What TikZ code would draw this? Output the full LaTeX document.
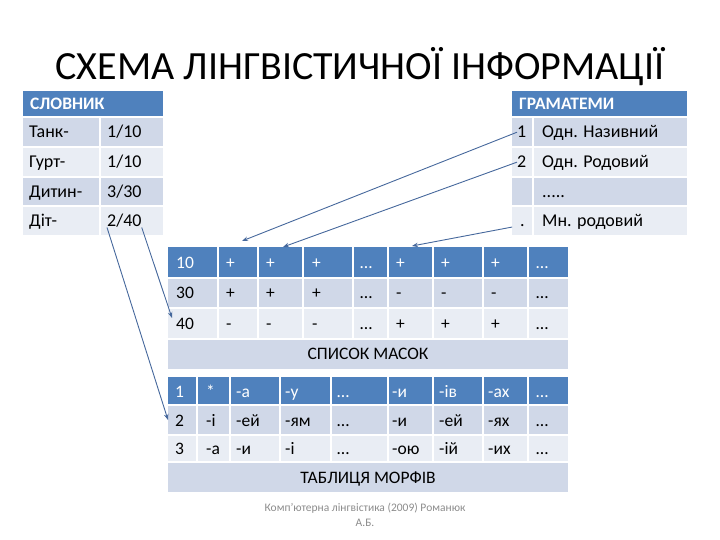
\documentclass[tikz,border=0pt]{standalone}
\usepackage{fontspec}
\setmainfont{Carlito}
\usetikzlibrary{arrows.meta}
\definecolor{hdr}{HTML}{4F81BD}
\definecolor{bandA}{HTML}{D0D8E8}
\definecolor{bandB}{HTML}{E9EDF4}
\definecolor{arr}{HTML}{46689C}
\definecolor{footc}{HTML}{8C8C8C}
\begin{document}
\begin{tikzpicture}[x=1pt,y=-1pt,
  big/.style={anchor=base west, inner sep=0pt, font=\fontsize{18}{20}\selectfont},
  hd/.style={anchor=base west, inner sep=0pt, text=white, font=\fontsize{17.5}{20}\selectfont\bfseries},
  mk/.style={anchor=base west, inner sep=0pt, font=\fontsize{17.5}{20}\selectfont},
  grid/.style={white, line width=1.2pt},
  con/.style={arr, line width=0.9pt, -{Stealth[length=6pt,width=4.5pt]}}]
\useasboundingbox (0,0) rectangle (720,540);

% title
\node[anchor=base, inner sep=0pt, font=\fontsize{40}{46}\selectfont] (title) at (360,80) {СХЕМА ЛІНГВІСТИЧНОЇ ІНФОРМАЦІЇ};

% ---------- СЛОВНИК ----------
\fill[hdr] (23,91) rectangle (163,117);
\fill[bandA] (23,117) rectangle (163,147);
\fill[bandB] (23,147) rectangle (163,177);
\fill[bandA] (23,177) rectangle (163,206);
\fill[bandB] (23,206) rectangle (163,235);
\foreach \y in {117,147,177,206} \draw[grid] (23,\y) -- (163,\y);
\draw[grid] (100,117) -- (100,235);
\node[hd] (sh) at (30,110) {СЛОВНИК};
\node[big] (s1) at (29,138) {Танк-};
\node[big] (s1v) at (107,138) {1/10};
\node[big] (s2) at (29,168) {Гурт-};
\node[big] (s2v) at (107,168) {1/10};
\node[big] (s3) at (29,197.5) {Дитин-};
\node[big] (s3v) at (107,197.5) {3/30};
\node[big] (s4) at (29,226.5) {Діт-};
\node[big] (s4v) at (107,226.5) {2/40};

% ---------- ГРАМАТЕМИ ----------
\fill[hdr] (512,91) rectangle (687,117);
\fill[bandA] (512,117) rectangle (687,147);
\fill[bandB] (512,147) rectangle (687,177);
\fill[bandA] (512,177) rectangle (687,206);
\fill[bandB] (512,206) rectangle (687,235);
\foreach \y in {117,147,177,206} \draw[grid] (512,\y) -- (687,\y);
\draw[grid] (533,117) -- (533,235);
\node[hd] (gh) at (519,110) {ГРАМАТЕМИ};
\node[big] (g1) at (517,138) {1};
\node[big] (g1t) at (542,138) {Одн. Називний};
\node[big] (g2) at (517,168) {2};
\node[big] (g2t) at (542,168) {Одн. Родовий};
\node[big] (g3t) at (542,197.5) {.....};
\node[big] (g4) at (520,226.5) {.};
\node[big] (g4t) at (542,226.5) {Мн. родовий};

% ---------- СПИСОК МАСОК ----------
\fill[hdr] (168,247) rectangle (568,278);
\fill[bandA] (168,278) rectangle (568,308);
\fill[bandB] (168,308) rectangle (568,339);
\fill[bandA] (168,339) rectangle (568,369);
\foreach \y in {278,308,339} \draw[grid] (168,\y) -- (568,\y);
\foreach \x in {218,258,303,353,388,433,483,528} \draw[grid] (\x,247) -- (\x,339);
\foreach \x/\s [count=\i] in {176/10,226/+,266/+,312/+,360/…,396/+,441/+,491/+,536/…}
  \node[mk, text=white] (ma\i) at (\x,268) {\s};
\foreach \x/\s [count=\i] in {176/30,226/+,266/+,312/+,360/…,396/-,441/-,491/-,536/…}
  \node[mk] (mb\i) at (\x,298.5) {\s};
\foreach \x/\s [count=\i] in {176/40,226/-,266/-,312/-,360/…,396/+,441/+,491/+,536/…}
  \node[mk] (mc\i) at (\x,329) {\s};
\node[anchor=base, inner sep=0pt, font=\fontsize{17.5}{20}\selectfont] (mtitle) at (368,359.5) {СПИСОК МАСОК};

% ---------- ТАБЛИЦЯ МОРФІВ ----------
\fill[hdr] (168,377) rectangle (568,405);
\fill[bandA] (168,405) rectangle (568,435);
\fill[bandB] (168,435) rectangle (568,462);
\fill[bandA] (168,462) rectangle (568,492);
\foreach \y in {405,435,462} \draw[grid] (168,\y) -- (568,\y);
\foreach \x in {197,230,280,331,388,433,483,528} \draw[grid] (\x,377) -- (\x,462);
\foreach \x/\s [count=\i] in {175/1,206/*,236/-а,285/-у,337/…,392/-и,439/-ів,488/-ах,536/…}
  \node[mk, text=white] (ra\i) at (\x,397) {\s};
\foreach \x/\s [count=\i] in {175/2,206/-і,236/-ей,285/-ям,337/…,392/-и,439/-ей,488/-ях,536/…}
  \node[mk] (rb\i) at (\x,426) {\s};
\foreach \x/\s [count=\i] in {175/3,206/-а,236/-и,285/-і,337/…,392/-ою,439/-ій,488/-их,536/…}
  \node[mk] (rc\i) at (\x,454.5) {\s};
\node[anchor=base, inner sep=0pt, font=\fontsize{17.5}{20}\selectfont] (rtitle) at (368,483) {ТАБЛИЦЯ МОРФІВ};

% footer
\node[anchor=base, inner sep=0pt, text=footc, font=\fontsize{11.5}{14}\selectfont] (foot1) at (365,511) {Комп'ютерна лінгвістика (2009) Романюк};
\node[anchor=base, inner sep=0pt, text=footc, font=\fontsize{11.5}{14}\selectfont] (foot2) at (365,526) {А.Б.};

% connectors
\coordinate (tA) at (242,241);
\coordinate (tB) at (283,247);
\coordinate (tC) at (412,246);
\coordinate (tD) at (172,318);
\coordinate (tE) at (168,420);
\draw[con] (g1.west) -- (tA);
\draw[con] (g2.west) -- (tB);
\draw[con, shorten <=8pt] (g4.west) -- (tC);
\draw[con] (s4v.south east) -- (tD);
\draw[con] (s4v.south west) -- (tE);
\end{tikzpicture}
\end{document}
